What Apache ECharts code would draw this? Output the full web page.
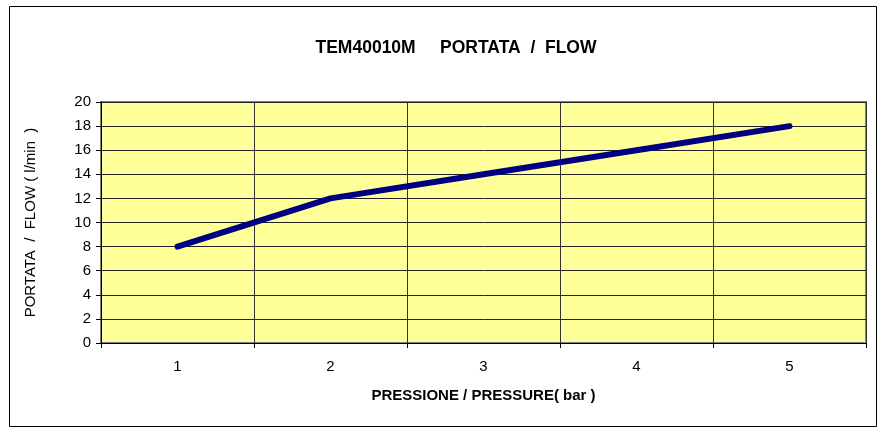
<!DOCTYPE html>
<html>
<head>
<meta charset="utf-8">
<script src="https://cdn.jsdelivr.net/npm/echarts@6/dist/echarts.min.js"></script>
<style>
  html, body { margin: 0; padding: 0; background: #fff; }
  #chart { width: 888px; height: 436px; }
</style>
</head>
<body>
<div id="chart"></div>
<script>
// dati del grafico
var pressures = ['1', '2', '3', '4', '5'];
var flow = [8, 12, 14, 16, 18];

var chart = echarts.init(document.getElementById('chart'));
var font = '"Liberation Sans", Arial, sans-serif';

var option = {
    animation: false,
    textStyle: { fontFamily: font },
    title: {
        text: 'TEM40010M     PORTATA  /  FLOW',
        left: 451,
        textAlign: 'center',
        top: 34,
        textStyle: { fontSize: 17.5, fontWeight: 'bold', color: '#000', fontFamily: font }
    },
    graphic: [{
        type: 'rect',
        shape: { x: 9.5, y: 6.5, width: 867, height: 420 },
        style: { fill: 'none', stroke: '#000', lineWidth: 1 },
        z: 0
    }],
    grid: {
        left: 101,
        right: 22,
        top: 102,
        bottom: 93,
        show: true,
        backgroundColor: '#ffff99',
        borderColor: '#808080',
        borderWidth: 2
    },
    xAxis: {
        type: 'category',
        data: pressures,
        boundaryGap: true,
        name: 'PRESSIONE / PRESSURE( bar )',
        nameLocation: 'middle',
        nameGap: 45,
        nameTextStyle: { fontSize: 15, fontWeight: 'bold', color: '#000', fontFamily: font },
        axisLine: { lineStyle: { color: '#000', width: 1 } },
        axisTick: { show: true, length: 5, interval: 0, lineStyle: { color: '#000' } },
        axisLabel: { fontSize: 15, color: '#000', margin: 16, fontFamily: font },
        splitLine: { show: true, interval: 0, lineStyle: { color: '#333', width: 1 } }
    },
    yAxis: {
        type: 'value',
        min: 0,
        max: 20,
        interval: 2,
        name: 'PORTATA  /  FLOW ( l/min  )',
        nameLocation: 'middle',
        nameGap: 63,
        nameRotate: 90,
        nameTextStyle: { fontSize: 15, color: '#000', fontFamily: font },
        axisLine: { show: true, lineStyle: { color: '#000', width: 1 } },
        axisTick: { show: true, length: 5, lineStyle: { color: '#000' } },
        axisLabel: { fontSize: 15, color: '#000', margin: 10, fontFamily: font },
        splitLine: { show: true, lineStyle: { color: '#222', width: 1 } }
    },
    series: [{
        type: 'line',
        data: flow,
        showSymbol: false,
        symbol: 'none',
        lineStyle: { color: '#000080', width: 6, cap: 'round', join: 'round' }
    }]
};

chart.setOption(option);
</script>
</body>
</html>
